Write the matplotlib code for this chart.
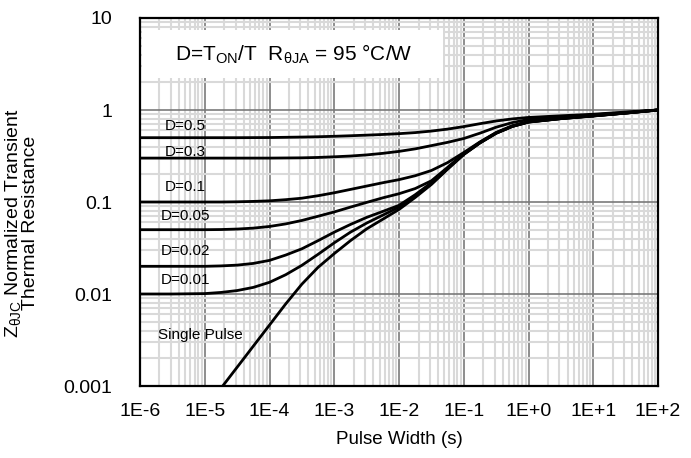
import numpy as np
import matplotlib.pyplot as plt
from matplotlib.patches import Rectangle
from matplotlib.ticker import FixedLocator, FixedFormatter, LogLocator, NullFormatter

plt.rcParams['font.family'] = ['Liberation Sans', 'DejaVu Sans']
plt.rcParams['mathtext.fontset'] = 'custom'
plt.rcParams['mathtext.rm'] = 'Liberation Sans'
plt.rcParams['mathtext.it'] = 'Liberation Sans'

# log10 of pulse width (s) at which the curves were read
log_t = [-6, -5.5, -5, -4.75, -4.5, -4.25, -4, -3.75, -3.5, -3.25, -3, -2.75, -2.5, -2.25, -2,
         -1.75, -1.5, -1.25, -1, -0.75, -0.5, -0.25, 0, 0.5, 1, 1.5, 2]

z_d05 = [0.50, 0.50, 0.50, 0.50, 0.50, 0.501, 0.502, 0.505, 0.508, 0.512, 0.518, 0.525, 0.533, 0.542, 0.553,
         0.568, 0.59, 0.62, 0.66, 0.71, 0.76, 0.80, 0.83, 0.865, 0.90, 0.95, 1.0]
z_d03 = [0.30, 0.30, 0.30, 0.30, 0.30, 0.30, 0.30, 0.301, 0.302, 0.305, 0.31, 0.316, 0.325, 0.338, 0.355,
         0.378, 0.41, 0.445, 0.49, 0.56, 0.65, 0.73, 0.79, 0.84, 0.885, 0.94, 1.0]
z_d01 = [0.10, 0.10, 0.10, 0.10, 0.1005, 0.1015, 0.103, 0.106, 0.11, 0.117, 0.126, 0.137, 0.149, 0.162, 0.175,
         0.193, 0.22, 0.268, 0.345, 0.45, 0.57, 0.675, 0.75, 0.815, 0.87, 0.93, 1.0]
z_d005 = [0.05, 0.05, 0.05, 0.0502, 0.0508, 0.052, 0.0542, 0.0578, 0.063, 0.07, 0.078, 0.088, 0.099, 0.111, 0.123,
          0.14, 0.17, 0.238, 0.337, 0.445, 0.565, 0.668, 0.745, 0.81, 0.866, 0.928, 1.0]
z_d002 = [0.02, 0.02, 0.02, 0.0202, 0.0206, 0.0215, 0.0232, 0.0265, 0.031, 0.038, 0.047, 0.057, 0.068, 0.079, 0.092,
          0.12, 0.162, 0.233, 0.332, 0.441, 0.561, 0.665, 0.742, 0.807, 0.864, 0.927, 1.0]
z_d001 = [0.01, 0.01, 0.0101, 0.0104, 0.0109, 0.0118, 0.0134, 0.0162, 0.0205, 0.027, 0.036, 0.047, 0.059, 0.072, 0.088,
          0.116, 0.158, 0.23, 0.33, 0.44, 0.56, 0.664, 0.74, 0.806, 0.862, 0.926, 1.0]

log_t_single = [-4.8, -4.5, -4, -3.75, -3.5, -3.25, -3, -2.75, -2.5, -2.25, -2, -1.75,
                -1.5, -1.25, -1, -0.75, -0.5, -0.25, 0, 0.5, 1, 1.5, 2]
z_single = [0.00085, 0.0016, 0.0046, 0.0078, 0.0128, 0.0195, 0.0275, 0.038, 0.051, 0.065, 0.083, 0.112,
            0.155, 0.227, 0.328, 0.438, 0.558, 0.662, 0.738, 0.805, 0.86, 0.925, 1.0]

curves = [z_d05, z_d03, z_d01, z_d005, z_d002, z_d001]
labels = ['D=0.5', 'D=0.3', 'D=0.1', 'D=0.05', 'D=0.02', 'D=0.01']
label_y = [0.67, 0.35, 0.146, 0.0705, 0.0293, 0.0142]

x_ticks = [1e-6, 1e-5, 1e-4, 1e-3, 1e-2, 1e-1, 1e0, 1e1, 1e2]
x_ticklabels = ['1E-6', '1E-5', '1E-4', '1E-3', '1E-2', '1E-1', '1E+0', '1E+1', '1E+2']
y_ticks = [0.001, 0.01, 0.1, 1, 10]
y_ticklabels = ['0.001', '0.01', '0.1', '1', '10']

fig = plt.figure(figsize=(6.91, 4.58), dpi=100)
ax = fig.add_axes([0.2026, 0.1572, 0.7497, 0.8035])
ax.set_xscale('log')
ax.set_yscale('log')
ax.set_xlim(1e-6, 1e2)
ax.set_ylim(1e-3, 10)

t = 10.0 ** np.array(log_t)
for z in curves:
    ax.plot(t, z, color='black', lw=2, solid_joinstyle='round', zorder=3)
ax.plot(10.0 ** np.array(log_t_single), z_single, color='black', lw=2,
        solid_joinstyle='round', zorder=3)

for lab, yv in zip(labels, label_y):
    ax.text(10 ** -5.3, yv, lab, fontsize=11, ha='center', va='center', zorder=4)
ax.text(10 ** -5.07, 0.00358, 'Single Pulse', fontsize=11, ha='center', va='center', zorder=4)

# grid
ax.xaxis.set_major_locator(FixedLocator(x_ticks))
ax.xaxis.set_major_formatter(FixedFormatter(x_ticklabels))
ax.yaxis.set_major_locator(FixedLocator(y_ticks))
ax.yaxis.set_major_formatter(FixedFormatter(y_ticklabels))
ax.xaxis.set_minor_locator(LogLocator(base=10, subs=np.arange(2, 10), numticks=20))
ax.yaxis.set_minor_locator(LogLocator(base=10, subs=np.arange(2, 10), numticks=20))
ax.xaxis.set_minor_formatter(NullFormatter())
ax.yaxis.set_minor_formatter(NullFormatter())
ax.grid(which='minor', color='#d9d9d9', lw=1.5, zorder=1)
ax.grid(which='major', color='#7a7a7a', lw=1.2, zorder=2)
ax.set_axisbelow(True)
ax.tick_params(which='both', length=0)
ax.tick_params(axis='x', labelsize=14, pad=12)
ax.tick_params(axis='y', labelsize=14, pad=20)
for s in ax.spines.values():
    s.set_linewidth(1.6)
    s.set_zorder(5)

# header box
ax.add_patch(Rectangle((0.004, 0.837), 0.58, 0.13, transform=ax.transAxes,
                       facecolor='white', edgecolor='none', zorder=2.5))
ax.text(0.0676, 0.902, r'D=T$_{\mathregular{ON}}$/T  R$_{\mathregular{\theta JA}}$ = 95 °C/W',
        transform=ax.transAxes, fontsize=15, ha='left', va='center', zorder=4)

ax.set_xlabel('Pulse Width (s)', fontsize=13.5, labelpad=8)
ax.set_ylabel('Z$_{\\mathregular{\\theta JC}}$ Normalized Transient\nThermal Resistance',
              fontsize=14, linespacing=0.95)
ax.yaxis.set_label_coords(-0.195, 0.443)

plt.savefig('out.png', dpi=100)
